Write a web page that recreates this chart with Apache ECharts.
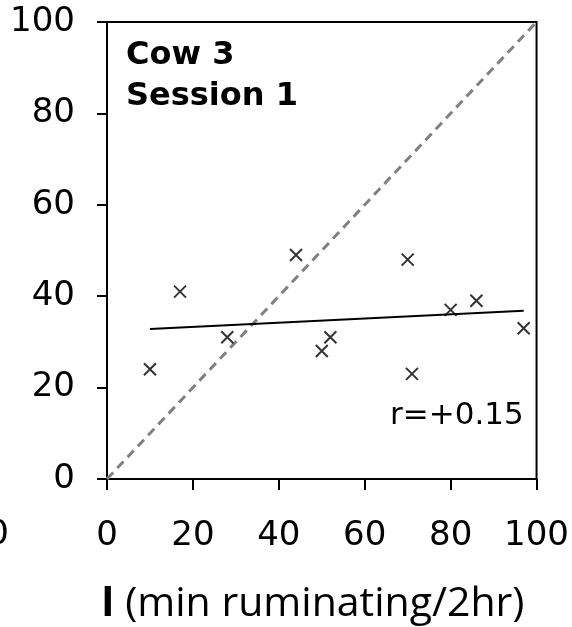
<!DOCTYPE html>
<html>
<head>
    <meta charset="utf-8">
    <title>Cow 3 Session 1</title>
    <script src="https://cdn.jsdelivr.net/npm/echarts@6.0.0/dist/echarts.min.js"></script>
    <style>
        html, body { margin: 0; padding: 0; background: #fff; }
        #main { width: 572px; height: 627px; }
    </style>
</head>
<body>
<div id="main"></div>
<script type="text/javascript">
    // scatter points (x = min ruminating/2hr)
    var pointX = [10, 17, 28, 44, 50, 52, 70, 71, 80, 86, 97];
    var pointY = [24, 41, 31, 49, 28, 31, 48, 23, 37, 39, 33];
    // fitted line end points
    var trendX = [10, 97];
    var trendY = [32.8, 36.8];
    // line of equality
    var diagX = [0, 100];
    var diagY = [0, 100];
    var axisTicks = [0, 20, 40, 60, 80, 100];

    var font = 'DejaVu Sans';

    function pairs(xs, ys) {
        var out = [];
        for (var i = 0; i < xs.length; i++) {
            out.push([xs[i], ys[i]]);
        }
        return out;
    }

    var chart = echarts.init(document.getElementById('main'), null, {renderer: 'canvas'});

    var option = {
        backgroundColor: '#fff',
        animation: false,
        grid: {
            left: 107,
            right: 33,
            top: 22,
            bottom: 148,
            show: true,
            borderColor: '#000',
            borderWidth: 2
        },
        xAxis: {
            type: 'value',
            min: axisTicks[0],
            max: axisTicks[axisTicks.length - 1],
            interval: 20,
            axisLine: {show: true, lineStyle: {color: '#000', width: 2}},
            axisTick: {show: true, length: 11, lineStyle: {color: '#000', width: 2}},
            axisLabel: {color: '#000', fontSize: 34, fontFamily: font, margin: 40},
            splitLine: {show: false}
        },
        yAxis: {
            type: 'value',
            min: axisTicks[0],
            max: axisTicks[axisTicks.length - 1],
            interval: 20,
            axisLine: {show: true, lineStyle: {color: '#000', width: 2}},
            axisTick: {show: true, length: 10, lineStyle: {color: '#000', width: 2}},
            axisLabel: {color: '#000', fontSize: 34, fontFamily: font, margin: 32},
            splitLine: {show: false}
        },
        graphic: [
            {type: 'text', left: 126, top: 40, style: {text: 'Cow 3', font: 'bold 32px DejaVu Sans', fill: '#000'}},
            {type: 'text', left: 126, top: 81, style: {text: 'Session 1', font: 'bold 32px DejaVu Sans', fill: '#000'}},
            {type: 'text', left: 390, top: 400, style: {text: 'r=+0.15', font: '31px DejaVu Sans', fill: '#000'}},
            {type: 'text', right: 563, top: 518, style: {text: '100', font: '34px DejaVu Sans', fill: '#000'}},
            {
                type: 'text', left: 101, top: 584,
                style: {
                    text: '{b|I} (min ruminating/2hr)',
                    font: '41px "Open Sans"',
                    fill: '#000',
                    rich: {b: {fontWeight: 'bold', fontSize: 41, fontFamily: 'Open Sans'}}
                }
            }
        ],
        series: [{
            type: 'line',
            data: pairs(diagX, diagY),
            symbol: 'none',
            lineStyle: {color: '#808080', width: 3, type: [9, 6]},
            z: 1
        }, {
            type: 'line',
            data: pairs(trendX, trendY),
            symbol: 'none',
            lineStyle: {color: '#000', width: 2},
            z: 2
        }, {
            type: 'scatter',
            data: pairs(pointX, pointY),
            symbol: 'path://M0,0L10,10M10,0L0,10',
            symbolSize: 12,
            itemStyle: {color: 'none', borderColor: '#000', borderWidth: 2},
            z: 3
        }]
    };

    chart.setOption(option);
</script>
</body>
</html>
